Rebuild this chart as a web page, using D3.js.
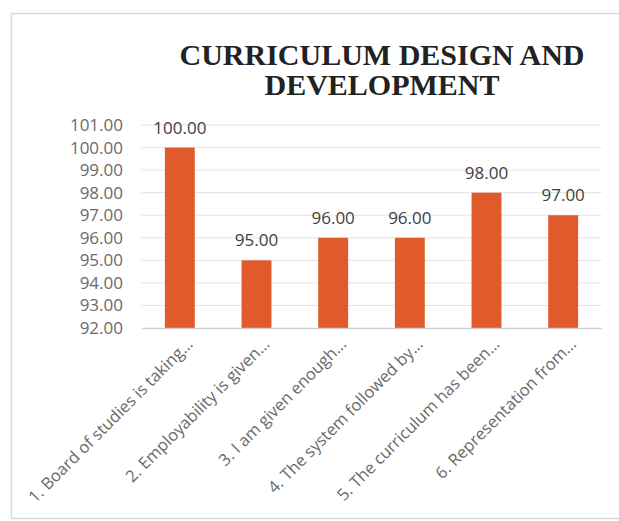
<!DOCTYPE html>
<html>
<head>
<meta charset="utf-8">
<script src="https://cdn.jsdelivr.net/npm/d3@7"></script>
<style>
  html, body { margin: 0; padding: 0; background: #fff; }
</style>
</head>
<body>
<svg id="chart" width="619" height="521"></svg>
<script>
const titleLines = ["CURRICULUM DESIGN AND", "DEVELOPMENT"];
const categories = [
  "1. Board of studies is taking...",
  "2. Employability is given...",
  "3. I am given enough...",
  "4. The system followed by...",
  "5. The curriculum has been...",
  "6. Representation from..."
];
const values = [100, 95, 96, 96, 98, 97];
const yTicks = [92, 93, 94, 95, 96, 97, 98, 99, 100, 101];

const svg = d3.select("#chart");
const W = 619, H = 521;
const plot = { left: 141.5, right: 601.5, top: 125, bottom: 328 };

svg.append("rect").attr("width", W).attr("height", H).attr("fill", "#fff");
// chart frame
svg.append("rect")
  .attr("x", 11.5).attr("y", 13.5).attr("width", 640).attr("height", 505)
  .attr("fill", "none").attr("stroke", "#d9d9d9").attr("stroke-width", 1.5);

const x = d3.scaleBand().domain(categories).range([plot.left, plot.right]).paddingInner(0.61).paddingOuter(0.305);
const y = d3.scaleLinear().domain([92, 101]).range([plot.bottom, plot.top]);

// gridlines
svg.append("g").selectAll("line").data(yTicks.filter(t => t !== 92)).join("line")
  .attr("x1", plot.left).attr("x2", plot.right)
  .attr("y1", d => y(d)).attr("y2", d => y(d))
  .attr("stroke", "#e3e3e3").attr("stroke-width", 1);

// y axis labels
const yAxis = d3.axisLeft(y).tickValues(yTicks).tickFormat(d3.format(".2f")).tickSize(0).tickPadding(0);
const gy = svg.append("g").attr("transform", `translate(123,0)`).call(yAxis);
gy.select(".domain").remove();
gy.selectAll("text")
  .attr("fill", "#6a6a6a")
  .style("font-family", "'Open Sans', sans-serif")
  .style("font-size", "17px");

// bars
svg.append("g").selectAll("rect").data(values).join("rect")
  .attr("x", (d, i) => x(categories[i]))
  .attr("width", x.bandwidth())
  .attr("y", d => y(d))
  .attr("height", d => y(92) - y(d))
  .attr("fill", "#e05a2b");

// baseline axis
const xAxis = d3.axisBottom(x).tickSize(0).tickFormat("");
const gx = svg.append("g").attr("transform", `translate(0,${plot.bottom})`).call(xAxis);
gx.select(".domain").attr("stroke", "#cfcfcf").attr("stroke-width", 1.5);

// data labels
svg.append("g").selectAll("text").data(values).join("text")
  .attr("x", (d, i) => x(categories[i]) + x.bandwidth() / 2)
  .attr("y", d => y(d) - 14)
  .attr("text-anchor", "middle")
  .attr("fill", "#404040")
  .style("font-family", "'Open Sans', sans-serif")
  .style("font-size", "17px")
  .text(d => d3.format(".2f")(d));

// category labels
svg.append("g").selectAll("text").data(categories).join("text")
  .attr("transform", d => `translate(${x(d) + x.bandwidth() / 2 + 10},${plot.bottom + 13}) rotate(-45)`)
  .attr("text-anchor", "end")
  .attr("dy", "0.35em")
  .attr("fill", "#6a6a6a")
  .style("font-family", "'Open Sans', sans-serif")
  .style("font-size", "16.5px")
  .text(d => d);

// title
svg.append("g").selectAll("text").data(titleLines).join("text")
  .attr("x", 382)
  .attr("y", (d, i) => 65 + i * 30)
  .attr("text-anchor", "middle")
  .attr("fill", "#222")
  .style("font-family", "'Liberation Serif', 'Times New Roman', serif")
  .style("font-weight", "bold")
  .style("font-size", "30px")
  .text(d => d);
</script>
</body>
</html>
